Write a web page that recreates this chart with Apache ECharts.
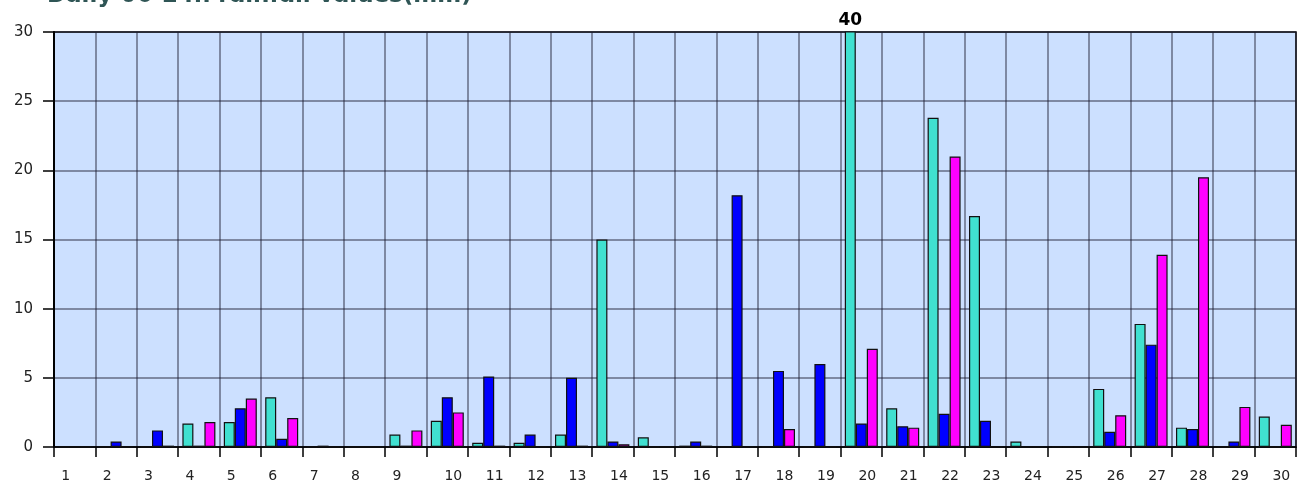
<!DOCTYPE html>
<html>
<head>
<meta charset="utf-8">
<script src="https://cdn.jsdelivr.net/npm/echarts@6/dist/echarts.min.js"></script>
<style>html,body{margin:0;padding:0;background:#fff;}#c{width:1298px;height:483px;}</style>
</head>
<body>
<div id="c"></div>
<script>
const titleText = "Daily 06-24h rainfall values(mm)";
const days = ["1","2","3","4","5","6","7","8","9","10","11","12","13","14","15","16","17","18","19","20","21","22","23","24","25","26","27","28","29","30"];
const seriesA = [0,0,0,1.7,1.8,3.6,0,0,0.9,1.9,0.3,0.3,0.9,15.0,0.7,0.1,0,0,0,40,2.8,23.8,16.7,0.4,0,4.2,8.9,1.4,0,2.2];
const seriesB = [0,0.4,1.2,0.1,2.8,0.6,0.1,0,0.1,3.6,5.1,0.9,5.0,0.4,0,0.4,18.2,5.5,6.0,1.7,1.5,2.4,1.9,0,0,1.1,7.4,1.3,0.4,0];
const seriesC = [0,0,0.1,1.8,3.5,2.1,0,0,1.2,2.5,0.1,0,0.1,0.2,0,0.1,0,1.3,0,7.1,1.4,21.0,0,0,0,2.3,13.9,19.5,2.9,1.6];
const yTicks = [0,5,10,15,20,25,30];
const yMax = 30;
const colors = ["#40E0D0","#0000FF","#FF00FF"];

function toItems(arr){
  return arr.map(v => v > yMax ? {value:v, label:{show:true, position:'top', distance:2, formatter:String(v), color:'#000', fontWeight:'bold', fontSize:17, fontFamily:'DejaVu Sans'}} : v);
}

const chart = echarts.init(document.getElementById('c'), null, {renderer:'canvas'});
const mk = (name, arr, color) => ({
  name, type:'bar', data: toItems(arr), barWidth: 11, barGap: '0%', clip: true,
  itemStyle:{color, borderColor:'#111', borderWidth:1.2},
  label:{show:false}
});
chart.setOption({
  animation:false,
  backgroundColor:'#fff',
  title:{text:titleText, left:42, top:-20, textStyle:{color:'#2f5555', fontSize:23, fontWeight:'bold', fontFamily:'DejaVu Sans'}},
  grid:{left:54, right:2, top:32, bottom:33, show:true, backgroundColor:'#cce0ff', borderColor:'#000', borderWidth:1.5},
  xAxis:{type:'category', data:days, boundaryGap:true,
    axisLine:{show:true, lineStyle:{color:'#000', width:1.5}},
    axisTick:{show:true, length:10, interval:0, lineStyle:{color:'#000', width:1.5}},
    axisLabel:{interval:0, margin:22, color:'#222', fontSize:14, fontFamily:'DejaVu Sans',
      formatter:(v, i) => i < 9 ? '{l|' + v + '}' : '{r|' + v + '}',
      rich:{l:{padding:[0,18,0,0], fontSize:14, fontFamily:'DejaVu Sans', color:'#222'}, r:{padding:[0,0,0,12], fontSize:14, fontFamily:'DejaVu Sans', color:'#222'}}
    },
    splitLine:{show:true, interval:0, lineStyle:{color:'rgba(30,30,50,0.6)', width:1.5}}
  },
  yAxis:{type:'value', min:yTicks[0], max:yMax, interval:5,
    axisLine:{show:true, lineStyle:{color:'#000', width:2}},
    axisTick:{show:true, length:11, lineStyle:{color:'#000', width:1.5}},
    axisLabel:{margin:21, color:'#222', fontSize:15, fontFamily:'DejaVu Sans'},
    splitLine:{show:true, lineStyle:{color:'rgba(30,30,50,0.6)', width:1.5}}
  },
  series:[mk('A', seriesA, colors[0]), mk('B', seriesB, colors[1]), mk('C', seriesC, colors[2])]
});
</script>
</body>
</html>
